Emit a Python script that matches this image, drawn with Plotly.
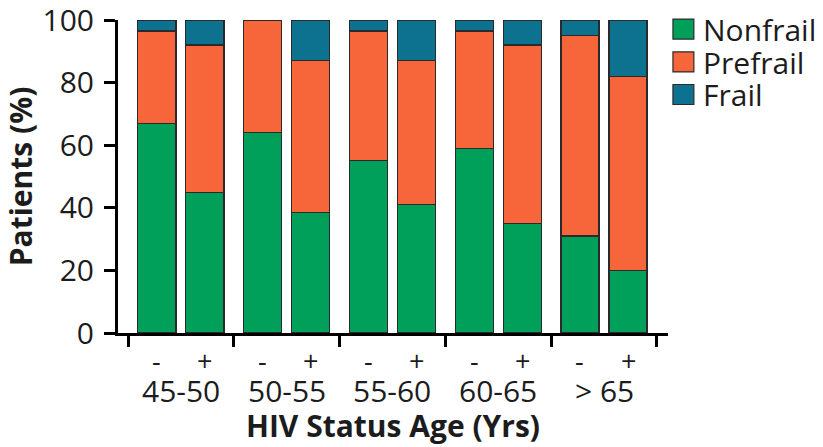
import plotly.graph_objects as go

# Frailty status by age group and HIV status (percent of patients)
age_groups = ["45-50", "50-55", "55-60", "60-65", "> 65"]
hiv_status = ["-", "+"]

nonfrail = [67.0, 45.0, 64.0, 38.5, 55.0, 41.0, 59.0, 35.0, 31.0, 20.0]
prefrail = [29.5, 47.0, 36.0, 48.5, 41.5, 46.0, 37.5, 57.0, 64.0, 62.0]
frail = [3.5, 8.0, 0.0, 13.0, 3.5, 13.0, 3.5, 8.0, 5.0, 18.0]

series_names = ["Nonfrail", "Prefrail", "Frail"]
series_colors = ["#00A05B", "#F7653B", "#0D7290"]

FONT = "Open Sans"
SIZE = 30
TXT = "#1c1c1c"
EDGE = "#2a2a2a"

# x position of every bar: group index shifted left/right for HIV -/+
offset = 0.227
bar_x = [g + (-offset if s == "-" else offset)
         for g in range(len(age_groups)) for s in hiv_status]
bar_sign = [s for _ in age_groups for s in hiv_status]
boundaries = [g - 0.5 for g in range(len(age_groups) + 1)]

fig = go.Figure()
for name, vals, col in zip(series_names, [nonfrail, prefrail, frail], series_colors):
    fig.add_trace(go.Bar(
        x=bar_x, y=vals, name=name, width=0.36,
        marker=dict(color=col, line=dict(color=EDGE, width=1.2)),
        showlegend=False,
    ))

# "-" / "+" labels under each bar, age group labels below them
annotations = []
for xv, s in zip(bar_x, bar_sign):
    annotations.append(dict(x=xv, y=0, xref="x", yref="paper", text=s,
                            showarrow=False, yanchor="middle", yshift=-27,
                            height=24,
                            font=dict(family=FONT, size=27, color=TXT)))
for g, lab in enumerate(age_groups):
    annotations.append(dict(x=g, y=0, xref="x", yref="paper", text=lab,
                            showarrow=False, yanchor="middle", yshift=-57,
                            height=28,
                            font=dict(family=FONT, size=SIZE, color=TXT)))

# Legend: coloured squares with series names to the right of the plot
shapes = []
row_y = [0.971, 0.866, 0.762]
for name, col, yc in zip(series_names, series_colors, row_y):
    shapes.append(dict(type="rect", xref="paper", yref="paper",
                       x0=1.009, x1=1.047, y0=yc - 0.032, y1=yc + 0.032,
                       fillcolor=col, line=dict(color=EDGE, width=1.2)))
    annotations.append(dict(x=1.06, y=yc, xref="paper", yref="paper",
                            text=name, showarrow=False, xanchor="left",
                            yanchor="middle", height=32,
                            font=dict(family=FONT, size=SIZE, color=TXT)))

fig.update_layout(
    barmode="stack",
    width=823, height=447,
    margin=dict(l=118, r=155, t=20, b=114),
    paper_bgcolor="white", plot_bgcolor="white",
    font=dict(family=FONT, color=TXT),
    annotations=annotations,
    shapes=shapes,
    xaxis=dict(
        range=[-0.5945, 4.605], automargin=False,
        tickvals=boundaries, showticklabels=False,
        ticks="outside", ticklen=11, tickwidth=3, tickcolor="black",
        showline=True, linewidth=3, linecolor="black",
        showgrid=False, zeroline=False,
        title=dict(text="<b>HIV Status Age (Yrs)</b>", standoff=70,
                   font=dict(family=FONT, size=SIZE, color=TXT)),
    ),
    yaxis=dict(
        range=[0, 100], tickvals=[0, 20, 40, 60, 80, 100], automargin=False,
        ticks="outside", ticklen=11, tickwidth=3, tickcolor="black",
        ticklabelstandoff=4, ticklabeloverflow="allow",
        tickfont=dict(family=FONT, size=SIZE, color=TXT),
        showline=True, linewidth=3, linecolor="black",
        showgrid=False, zeroline=False,
        title=dict(text="<b>Patients (%)</b>", standoff=2,
                   font=dict(family=FONT, size=SIZE, color=TXT)),
    ),
)

fig.write_html("out.html")
